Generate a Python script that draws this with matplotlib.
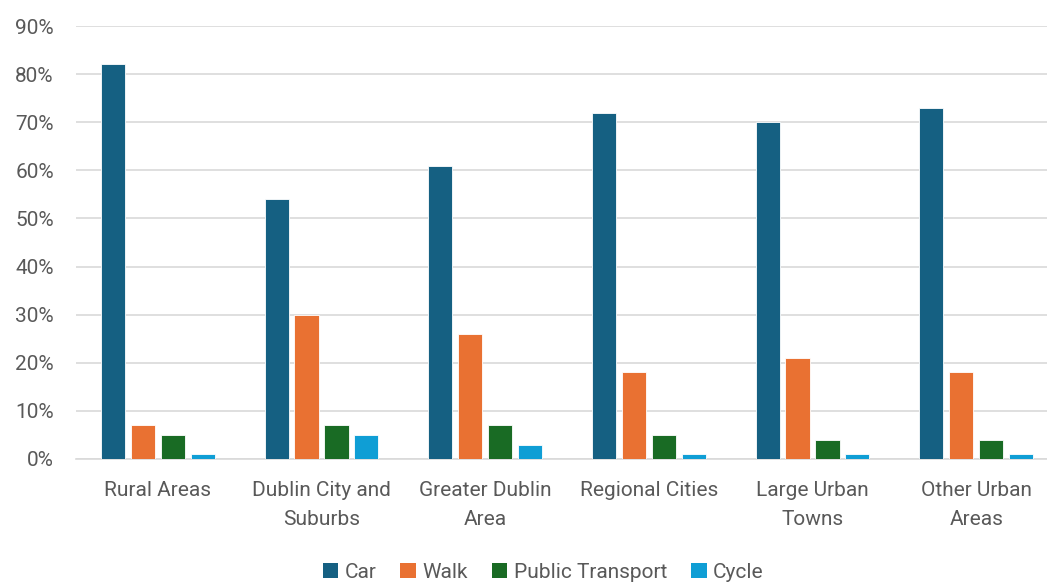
import matplotlib
matplotlib.use("Agg")
from matplotlib import pyplot as plt
from matplotlib.patches import Patch
import numpy as np

categories = ["Rural Areas", "Dublin City and\nSuburbs", "Greater Dublin\nArea",
              "Regional Cities", "Large Urban\nTowns", "Other Urban\nAreas"]
series_names = ["Car", "Walk", "Public Transport", "Cycle"]
car = [82, 54, 61, 72, 70, 73]
walk = [7, 30, 26, 18, 21, 18]
public_transport = [5, 7, 7, 5, 4, 4]
cycle = [1, 5, 3, 1, 1, 1]
colors = ["#156082", "#E97132", "#196B24", "#0F9ED5"]

plt.rcParams["font.family"] = ["Roboto", "DejaVu Sans"]
textColor = "#595959"
fs = 15

fig = plt.figure(figsize=(10.47, 5.82), dpi=100)
# plot area runs slightly past the right edge, as in the reference crop
ax = fig.add_axes([76 / 1047, 1 - 459 / 582, 982 / 1047, (459 - 26) / 582])

x = np.arange(len(categories))
pitch = 0.183
width = 0.147
allSeries = [car, walk, public_transport, cycle]
for i, vals in enumerate(allSeries):
    ax.bar(x + (i - 1.5) * pitch, vals, width, color=colors[i],
           edgecolor="white", linewidth=0.6, zorder=3)

ax.set_xlim(-0.5, len(categories) - 0.5)
ax.set_ylim(0, 90)
ax.set_yticks(range(0, 91, 10))
ax.set_yticklabels([str(v) + "%" for v in range(0, 91, 10)])
ax.set_xticks(x)
ax.set_xticklabels(categories, linespacing=1.65)
ax.grid(axis="y", color="#D9D9D9", linewidth=1.2, zorder=0)
for s in ["top", "right", "left"]:
    ax.spines[s].set_visible(False)
ax.spines["bottom"].set_color("#D9D9D9")
ax.spines["bottom"].set_linewidth(1.2)
ax.tick_params(axis="both", length=0, labelsize=fs, colors=textColor)
ax.tick_params(axis="y", pad=16)
ax.tick_params(axis="x", pad=16)

handles = [Patch(facecolor=c) for c in colors]
fig.legend(handles, series_names, loc="center", bbox_to_anchor=(543 / 1047, 1 - 572 / 582),
           ncol=4, frameon=False, fontsize=fs, handlelength=0.75, handleheight=0.75,
           handletextpad=0.3, columnspacing=1.15, labelcolor=textColor)

fig.savefig("out.png", dpi=100)
